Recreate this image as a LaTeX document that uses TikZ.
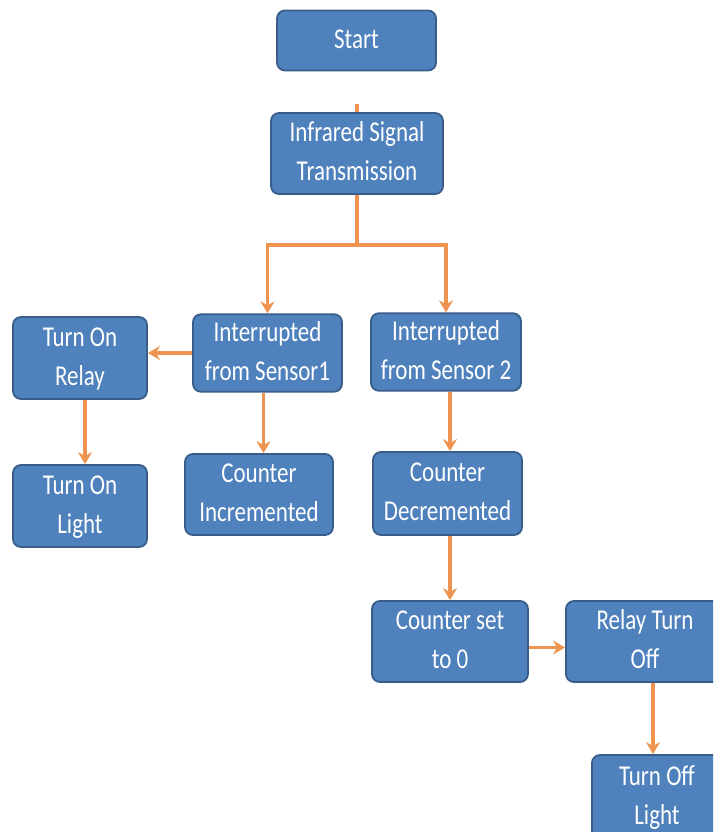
\documentclass[tikz,border=0pt]{standalone}
\usepackage{fontspec}
\setmainfont{Carlito}
\usepackage{graphicx}
\usetikzlibrary{arrows.meta,calc}
\definecolor{boxfill}{HTML}{4F81BD}
\definecolor{boxline}{HTML}{385D8A}
\definecolor{arrowc}{HTML}{EE9450}
\newcommand\bt[1]{\scalebox{1}[1.25]{\begin{tabular}{@{}c@{}}#1\end{tabular}}}
\begin{document}
\begin{tikzpicture}[x=1pt,y=-1pt,
  fbox/.style={draw=boxline,line width=1.8pt,fill=boxfill,rounded corners=8pt,
    text=white,inner sep=0pt,font=\fontsize{23}{31}\selectfont},
  conn/.style={draw=arrowc,line width=3.4pt},
  arr/.style={conn,-{Stealth[length=12pt,width=14pt,inset=4pt]}}]
\useasboundingbox (0,0) rectangle (713,832);
\clip (0,0) rectangle (713,832);
\fill[white] (0,0) rectangle (713,832);
\node[fbox,minimum width=159pt,minimum height=60pt] (start) at (356.5,40.5) {\bt{Start}};
\node[fbox,minimum width=172pt,minimum height=81pt] (infra) at (357,153.5) {\bt{Infrared Signal\\Transmission}};
\node[fbox,minimum width=149pt,minimum height=70pt] (s1) at (267.5,353) {\bt{Interrupted\\from Sensor1}};
\node[fbox,minimum width=150pt,minimum height=72pt] (s2) at (446,352) {\bt{Interrupted\\from Sensor 2}};
\node[fbox,minimum width=134pt,minimum height=82pt] (relayon) at (80,358) {\bt{Turn On\\Relay}};
\node[fbox,minimum width=134pt,minimum height=82pt] (lighton) at (80,506) {\bt{Turn On\\Light}};
\node[fbox,minimum width=148pt,minimum height=81pt] (cinc) at (259,494.5) {\bt{Counter\\Incremented}};
\node[fbox,minimum width=149pt,minimum height=83pt] (cdec) at (447.5,493.5) {\bt{Counter\\Decremented}};
\node[fbox,minimum width=156pt,minimum height=81pt] (set0) at (450,641.5) {\bt{Counter set\\to 0}};
\node[fbox,minimum width=158pt,minimum height=81pt] (relayoff) at (645,641.5) {\bt{Relay Turn\\Off}};
\node[fbox,minimum width=130pt,minimum height=84pt] (lightoff) at (657,797) {\bt{Turn Off\\Light}};
\coordinate (stub) at (357,104);
\coordinate (J) at (357,245);
\draw[conn] (stub) -- (infra.north);
\draw[conn] (infra.south) -- (J);
\draw[arr] (J) -| (s1.north);
\draw[arr] (J) -| (s2.north);
\draw[arr] (s1.west) -- (s1.west -| relayon.east);
\draw[arr] ([xshift=5pt]relayon.south) -- ([xshift=5pt]relayon.south |- lighton.north);
\draw[arr] ([xshift=-4pt]s1.south) -- ([xshift=-4pt]s1.south |- cinc.north);
\draw[arr] ([xshift=4pt]s2.south) -- ([xshift=4pt]s2.south |- cdec.north);
\draw[arr] ([xshift=2.5pt]cdec.south) -- ([xshift=2.5pt]cdec.south |- set0.north);
\draw[arr] ([yshift=-6pt]set0.east) -- ([yshift=-6pt]set0.east -| relayoff.west);
\draw[arr] ([xshift=8pt]relayoff.south) -- ([xshift=8pt]relayoff.south |- lightoff.north);
\end{tikzpicture}
\end{document}
